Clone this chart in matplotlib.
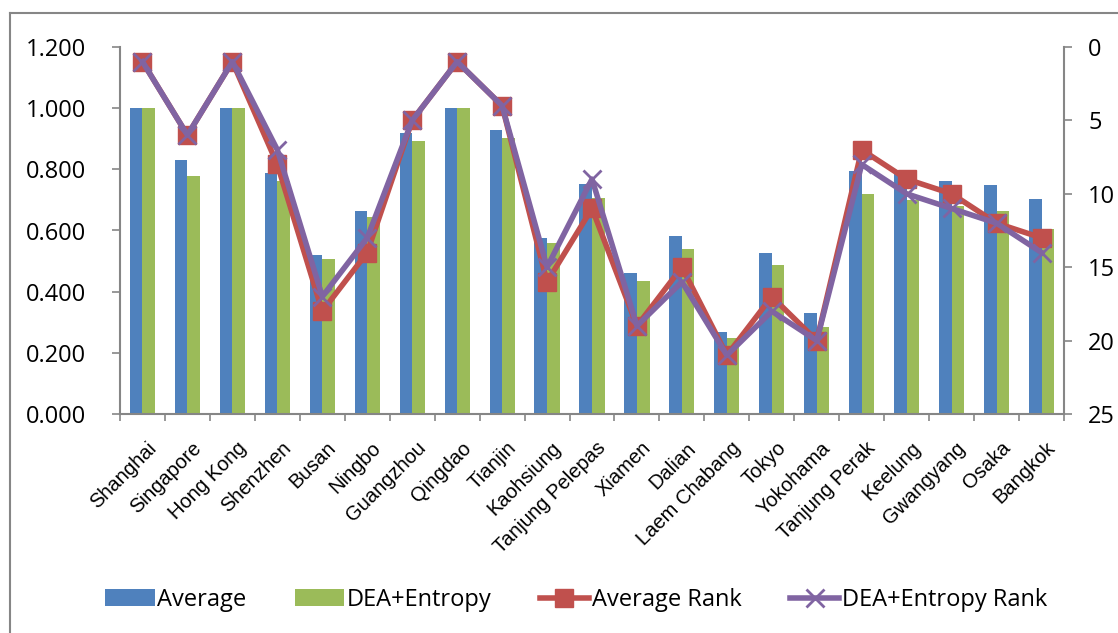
import matplotlib
matplotlib.use("Agg")
import matplotlib.pyplot as plt
import matplotlib.transforms as mtransforms
import numpy as np
from matplotlib.lines import Line2D

ports = ["Shanghai", "Singapore", "Hong Kong", "Shenzhen", "Busan", "Ningbo",
         "Guangzhou", "Qingdao", "Tianjin", "Kaohsiung", "Tanjung Pelepas",
         "Xiamen", "Dalian", "Laem Chabang", "Tokyo", "Yokohama",
         "Tanjung Perak", "Keelung", "Gwangyang", "Osaka", "Bangkok"]
average = [1.000, 0.829, 1.000, 0.789, 0.520, 0.663, 0.919, 1.000, 0.928, 0.576,
           0.751, 0.462, 0.582, 0.269, 0.527, 0.330, 0.794, 0.787, 0.763, 0.748, 0.702]
dea_entropy = [1.000, 0.777, 1.000, 0.762, 0.507, 0.645, 0.894, 1.000, 0.903, 0.560,
               0.707, 0.435, 0.541, 0.248, 0.486, 0.286, 0.719, 0.700, 0.680, 0.664, 0.604]
average_rank = [1, 6, 1, 8, 18, 14, 5, 1, 4, 16, 11, 19, 15, 21, 17, 20, 7, 9, 10, 12, 13]
dea_entropy_rank = [1, 6, 1, 7, 17, 13, 5, 1, 4, 15, 9, 19, 16, 21, 18, 20, 8, 10, 11, 12, 14]
left_ticks = [0.0, 0.2, 0.4, 0.6, 0.8, 1.0, 1.2]
right_ticks = [0, 5, 10, 15, 20, 25]

BLUE = "#4F81BD"
GREEN = "#9BBB59"
RED = "#C0504D"
PURPLE = "#8064A2"
GRAY = "#868686"

W, H = 1118, 633
fig = plt.figure(figsize=(W / 100, H / 100), dpi=100)
ax = fig.add_axes([120 / W, 1 - 414 / H, (1064 - 120) / W, (414 - 47) / H])
ax2 = ax.twinx()

x = np.arange(len(ports))
bw = 0.28
b1 = ax.bar(x - bw / 2, average, bw, color=BLUE, label="Average", zorder=2)
b2 = ax.bar(x + bw / 2, dea_entropy, bw, color=GREEN, label="DEA+Entropy", zorder=2)

l1, = ax2.plot(x, average_rank, color=RED, lw=4, marker="s", ms=13,
               mfc=RED, mec=RED, label="Average Rank", zorder=3)
l2, = ax2.plot(x, dea_entropy_rank, color=PURPLE, lw=4, marker="x", ms=13,
               mew=2, mec=PURPLE, label="DEA+Entropy Rank", zorder=4)

tick_font = {"family": "Open Sans", "size": 17}

ax.set_xlim(-0.5, len(ports) - 0.5)
ax.set_ylim(0, 1.2)
ax.set_yticks(left_ticks)
ax.set_yticklabels([f"{v:.3f}" for v in left_ticks], fontdict=tick_font)
ax2.set_ylim(25, 0)
ax2.set_yticks(right_ticks)
ax2.set_yticklabels([str(v) for v in right_ticks], fontdict=tick_font)

ax.set_xticks(x)
ax.set_xticklabels(ports, rotation=45, ha="right", va="center",
                   rotation_mode="anchor", family="Liberation Sans", fontsize=14.5)
ax.set_xticks(np.arange(-0.5, len(ports)), minor=True)
ax.tick_params(axis="x", which="major", length=0, pad=16)
ax.tick_params(axis="x", which="minor", length=5, width=1.2, color=GRAY, direction="out")
ax.tick_params(axis="y", length=5.8, width=1.2, color=GRAY, direction="out", pad=18.5)
ax2.tick_params(axis="y", length=5.8, width=1.2, color=GRAY, direction="out", pad=11.5)

offset = mtransforms.ScaledTranslation(0.11, -0.09, fig.dpi_scale_trans)
for lab in ax.get_xticklabels():
    lab.set_transform(lab.get_transform() + offset)

for a in (ax, ax2):
    a.spines["top"].set_visible(False)
    for s in ("left", "right", "bottom"):
        a.spines[s].set_color(GRAY)
        a.spines[s].set_linewidth(1.5)
ax.spines["right"].set_visible(False)
ax2.spines["left"].set_visible(False)
ax2.spines["bottom"].set_visible(False)

handles = [b1, b2, l1, l2]
labels = ["Average", "DEA+Entropy", "Average Rank", "DEA+Entropy Rank"]
leg = fig.legend(handles, labels, loc="center", bbox_to_anchor=(576 / W, 1 - 600 / H),
                 ncol=4, frameon=False, prop={"family": "Open Sans", "size": 17},
                 handlelength=2.1, handletextpad=0.1, columnspacing=2.05,
                 borderaxespad=0)

# outer chart border (left and top visible)
fig.add_artist(Line2D([10 / W, 10 / W], [-0.1, 1 - 13 / H], transform=fig.transFigure,
                      color=GRAY, lw=1.5))
fig.add_artist(Line2D([10 / W, 1.1], [1 - 13 / H, 1 - 13 / H], transform=fig.transFigure,
                      color=GRAY, lw=1.5))

fig.savefig("out.png", dpi=100)
